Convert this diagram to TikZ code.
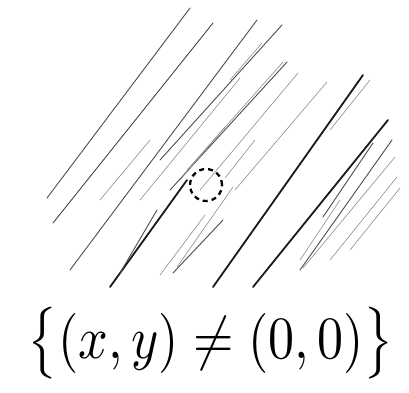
\documentclass[tikz,border=0pt]{standalone}
\usepackage{amsmath,amssymb}
\usepackage{graphicx}
\usepackage{tikz}
\usetikzlibrary{positioning}

\begin{document}
\begin{tikzpicture}[x=1pt,y=-1pt,
		hatchdark/.style={line width=1.8pt, black!90, line cap=round},
		hatch/.style={line width=0.9pt, black!70, line cap=round},
		hatchlight/.style={line width=0.6pt, black!45, line cap=round},
		hole/.style={draw, circle, line width=2.3pt, dash pattern=on 5pt off 4pt, minimum size=32pt, inner sep=0pt},
		settext/.style={inner sep=0pt}
		]
		\useasboundingbox (0,0) rectangle (409,392);
		
		% --- Hatching ---
		\foreach \a/\b/\c/\d in {363/75/213/287, 388/120/253/287, 187/180/110/287}
		\draw[hatchdark] (\a,\b) -- (\c,\d);
		
		\foreach \a/\b/\c/\d in {190/8/47/198, 213/23/53/223, 257/20/70/270,
			282/25/160/160, 287/62/170/190, 392/140/300/270, 373/143/323/217,
			223/220/173/273, 157/210/120/273}
		\draw[hatch] (\a,\b) -- (\c,\d);
		
		\foreach \a/\b/\c/\d in {262/43/230/80, 298/73/200/190, 327/82/235/190,
			240/78/140/200, 283/62/187/170, 205/215/160/275, 233/187/177/267,
			397/177/330/260, 400/188/350/250, 395/157/303/268, 340/200/300/260,
			225/127/180/180, 255/140/225/178, 150/140/100/200, 370/80/330/130}
		\draw[hatchlight] (\a,\b) -- (\c,\d);
		
		% --- Excluded point ---
		\node[hole] (origin) at (206,185) {};
		
		% --- Set ---
		\node[settext] (set) at (211,343)
		{\scalebox{5.2}[6.0]{$\bigl\{(x,y)\neq(0,0)\bigr\}$}};
		
	\end{tikzpicture}
\end{document}
